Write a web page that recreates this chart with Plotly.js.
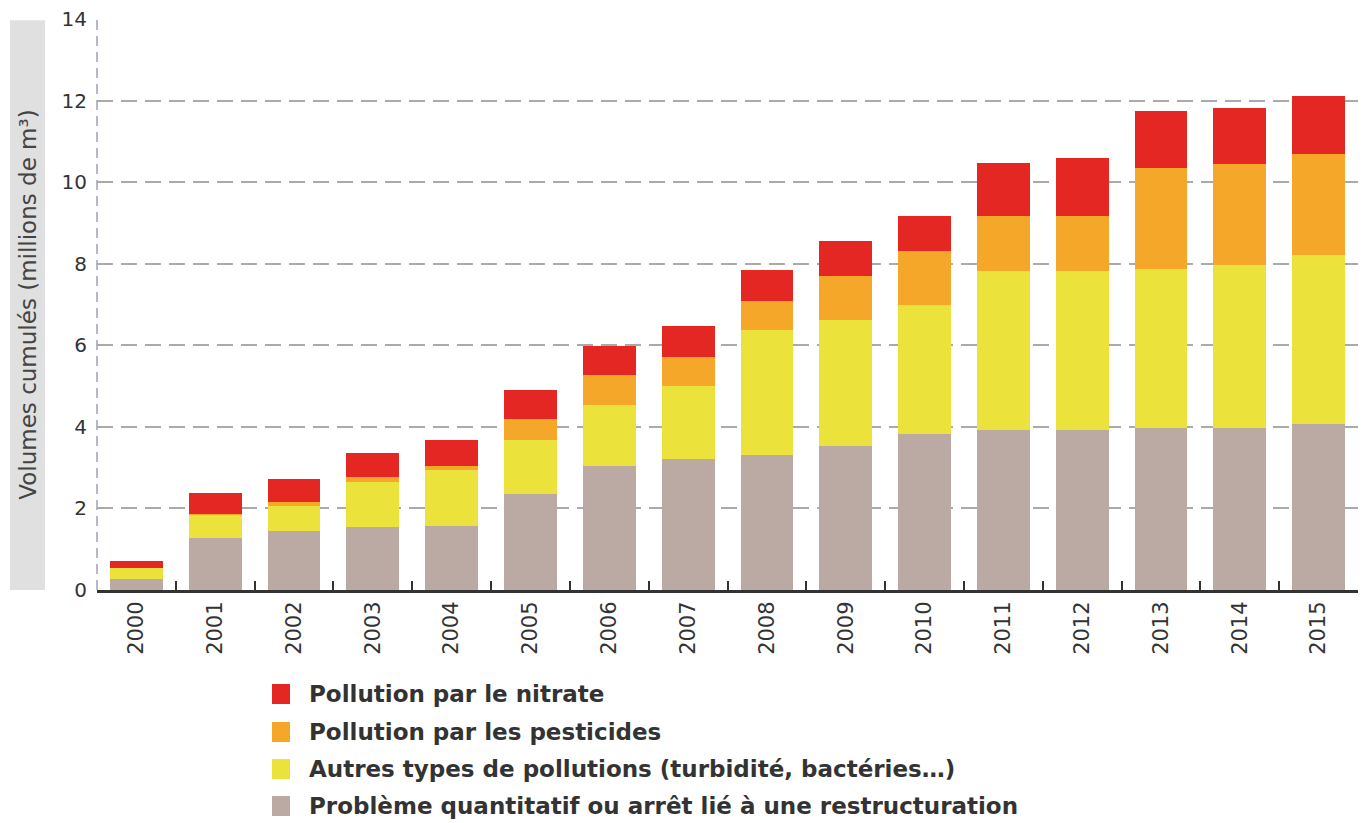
<!DOCTYPE html>
<html>
<head>
<meta charset="utf-8">
<script src="https://cdn.plot.ly/plotly-3.0.1.min.js"></script>
<style>
html,body{margin:0;padding:0;background:#fff;}
#chart{width:1372px;height:823px;}
</style>
</head>
<body>
<div id="chart"></div>
<script>
const years = ["2000","2001","2002","2003","2004","2005","2006","2007","2008","2009","2010","2011","2012","2013","2014","2015"];
const quantitatif = [0.26,1.28,1.44,1.54,1.56,2.35,3.05,3.20,3.30,3.54,3.83,3.93,3.93,3.98,3.98,4.06];
const autres      = [0.29,0.57,0.63,1.12,1.38,1.33,1.48,1.80,3.08,3.08,3.16,3.90,3.90,3.90,4.00,4.15];
const pesticides  = [0.00,0.02,0.08,0.10,0.09,0.52,0.75,0.71,0.71,1.07,1.31,1.33,1.33,2.47,2.46,2.47];
const nitrate     = [0.15,0.52,0.56,0.61,0.64,0.71,0.71,0.76,0.76,0.86,0.86,1.31,1.42,1.39,1.39,1.43];

const names = [
  "Problème quantitatif ou arrêt lié à une restructuration",
  "Autres types de pollutions (turbidité, bactéries…)",
  "Pollution par les pesticides",
  "Pollution par le nitrate"
];
const colors = ["#bbaaa4","#ebe33c","#f5a729","#e52724"];
const series = [quantitatif, autres, pesticides, nitrate];

const traces = series.map((vals, i) => ({
  type: "bar",
  x: years,
  y: vals,
  name: names[i],
  marker: {color: colors[i], line: {width: 0}},
  hoverinfo: "x+y+name"
}));

// plot area geometry (pixels) used to place the hand-made legend
const M = {l: 97, r: 14, t: 19, b: 233};
const W = 1372, H = 823;
const pw = W - M.l - M.r, ph = H - M.t - M.b;
const px = v => (v - M.l) / pw;
const py = v => (H - M.b - v) / ph;

// legend rows, top to bottom: nitrate, pesticides, autres, quantitatif
const legendOrder = [3, 2, 1, 0];
const rowY = [694, 732, 769, 806];
const legendShapes = legendOrder.map((k, r) => ({
  type: "rect", xref: "paper", yref: "paper",
  x0: px(272), x1: px(290), y0: py(rowY[r] + 10), y1: py(rowY[r] - 10),
  fillcolor: colors[k], line: {width: 0}
}));
const legendTexts = legendOrder.map((k, r) => ({
  xref: "paper", yref: "paper", x: px(307), y: py(rowY[r]),
  xanchor: "left", yanchor: "middle", showarrow: false,
  text: "<b>" + names[k] + "</b>",
  font: {size: 23, color: "#333333", family: "DejaVu Sans, sans-serif"}
}));

const layout = {
  width: W,
  height: H,
  margin: M,
  paper_bgcolor: "#ffffff",
  plot_bgcolor: "#ffffff",
  barmode: "stack",
  bargap: 0.33,
  showlegend: false,
  font: {family: "DejaVu Sans, sans-serif", color: "#333333"},
  xaxis: {
    type: "category",
    range: [-0.5, 15.5],
    tickangle: -90,
    tickfont: {size: 21, color: "#333333"},
    showline: true,
    linecolor: "#333333",
    linewidth: 3,
    ticks: "inside",
    tickson: "boundaries",
    ticklen: 9,
    tickwidth: 2,
    tickcolor: "#333333",
    showgrid: false,
    zeroline: false,
    automargin: false,
    fixedrange: true
  },
  yaxis: {
    range: [0, 14],
    tickvals: [0, 2, 4, 6, 8, 10, 12, 14],
    tickfont: {size: 20, color: "#333333"},
    showgrid: true,
    gridcolor: "#aaaaaa",
    gridwidth: 2,
    griddash: "16px,8px",
    zeroline: false,
    showline: false,
    ticks: "",
    ticklabelstandoff: 9,
    automargin: false,
    title: {
      text: "Volumes cumulés (millions de m³)",
      font: {size: 23, color: "#444444"},
      standoff: 18
    },
    fixedrange: true
  },
  annotations: legendTexts,
  shapes: [
    {type: "rect", xref: "paper", yref: "paper", x0: px(10), x1: px(45), y0: 0, y1: 0.998,
     fillcolor: "#e0e0e0", line: {width: 0}, layer: "below"},
    {type: "line", xref: "paper", yref: "paper", x0: 0, x1: 0, y0: 0, y1: 1,
     line: {color: "#9aa6b4", width: 1.5, dash: "10px,6px"}}
  ].concat(legendShapes)
};

Plotly.newPlot("chart", traces, layout, {displayModeBar: false, staticPlot: true});
</script>
</body>
</html>
